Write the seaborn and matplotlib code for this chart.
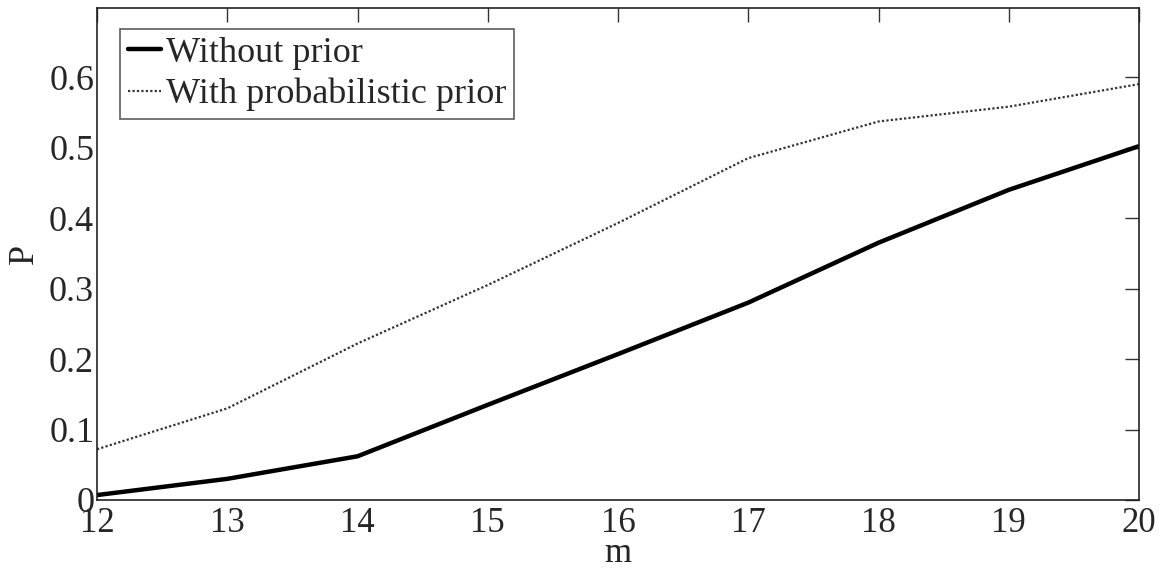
import matplotlib
matplotlib.use("Agg")
import matplotlib.pyplot as plt
import seaborn as sns
import pandas as pd

m_values = [12, 13, 14, 15, 16, 17, 18, 19, 20]
without_prior = [0.007, 0.030, 0.062, 0.135, 0.207, 0.280, 0.365, 0.440, 0.502]
with_prob_prior = [0.072, 0.130, 0.222, 0.305, 0.393, 0.485, 0.537, 0.558, 0.590]
series_names = ["Without prior", "With probabilistic prior"]
y_ticks = [0, 0.1, 0.2, 0.3, 0.4, 0.5, 0.6]
y_tick_labels = ["0", "0.1", "0.2", "0.3", "0.4", "0.5", "0.6"]

sns.set_style("white")
plt.rcParams["font.family"] = ["Liberation Serif", "DejaVu Serif"]

df = pd.DataFrame({
    "m": m_values * 2,
    "P": without_prior + with_prob_prior,
    "series": [series_names[0]] * len(m_values) + [series_names[1]] * len(m_values),
})

fig = plt.figure(figsize=(11.65, 5.69), dpi=100)
ax = fig.add_axes([97 / 1165, 1 - 500 / 569, (1139 - 97) / 1165, (500 - 8) / 569])

sns.lineplot(data=df[df.series == series_names[0]], x="m", y="P", ax=ax,
             color="black", linewidth=3.2, label=series_names[0])
sns.lineplot(data=df[df.series == series_names[1]], x="m", y="P", ax=ax,
             color="#333333", linewidth=1.6, linestyle=(0, (1, 1.0)), label=series_names[1])

ax.set_xlim(12, 20)
ax.set_ylim(0, 0.698)
ax.set_xticks(m_values)
ax.set_xticklabels([str(v) for v in m_values])
ax.set_yticks(y_ticks)
ax.set_yticklabels(y_tick_labels)
ax.tick_params(direction="in", length=10, width=1, top=True, right=True,
               color="#333333")
ax.tick_params(axis="x", labelsize=25, pad=5)
ax.tick_params(axis="y", labelsize=26, pad=2)
for s in ax.spines.values():
    s.set_visible(True)
    s.set_color("#222222")
    s.set_linewidth(1.2)

ax.set_xlabel("m", fontsize=25, labelpad=-2)
ax.set_ylabel("P", fontsize=26, labelpad=6)

leg = ax.legend(loc="upper left", bbox_to_anchor=(0.022, 0.958), fontsize=26,
                frameon=True, fancybox=False, handlelength=0.92, handletextpad=0.14,
                borderpad=0.22, labelspacing=0.22, borderaxespad=0)
leg.get_frame().set_edgecolor("#333333")
leg.get_frame().set_linewidth(1.2)

fig.savefig("out.png", dpi=100)
